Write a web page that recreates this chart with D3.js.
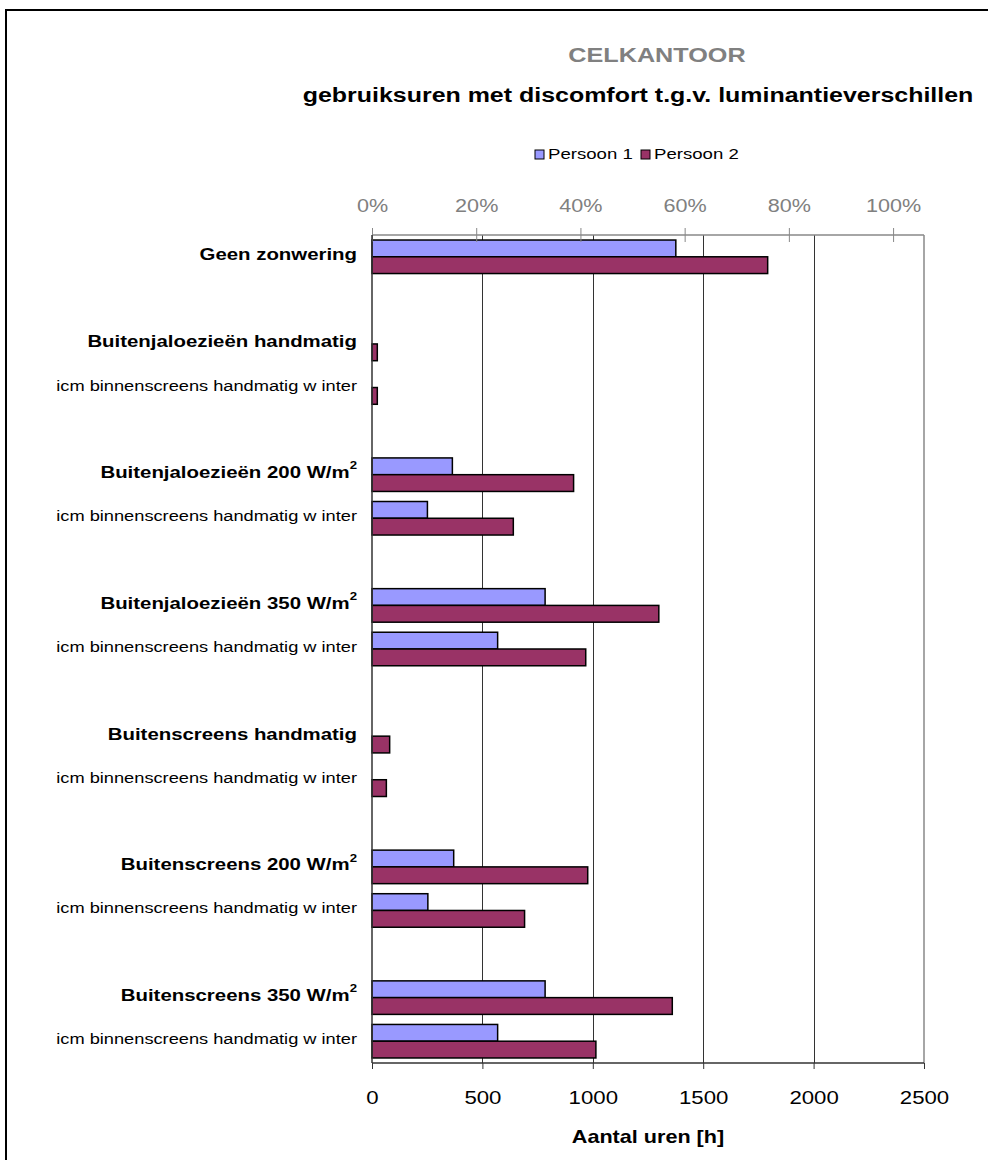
<!DOCTYPE html>
<html>
<head>
<meta charset="utf-8">
<script src="https://cdn.jsdelivr.net/npm/d3@7"></script>
<style>
  body { margin: 0; background: #fff; }
  text { font-family: "Liberation Sans", Arial, sans-serif; }
</style>
</head>
<body>
<svg id="chart" width="988" height="1160"></svg>
<script>
// ---- data ----
const categories = [
  "Geen zonwering", "",
  "Buitenjaloezieën handmatig", "icm binnenscreens handmatig w inter", "",
  "Buitenjaloezieën 200 W/m2", "icm binnenscreens handmatig w inter", "",
  "Buitenjaloezieën 350 W/m2", "icm binnenscreens handmatig w inter", "",
  "Buitenscreens handmatig", "icm binnenscreens handmatig w inter", "",
  "Buitenscreens 200 W/m2", "icm binnenscreens handmatig w inter", "",
  "Buitenscreens 350 W/m2", "icm binnenscreens handmatig w inter"
];
const persoon1 = [1376, null, 0, 0, null, 364, 251, null, 784, 569, null, 0, 0, null, 370, 253, null, 784, 569];
const persoon2 = [1792, null, 24, 24, null, 913, 640, null, 1299, 968, null, 80, 65, null, 977, 691, null, 1360, 1014];
const seriesNames = ["Persoon 1", "Persoon 2"];
const hourTicks = [0, 500, 1000, 1500, 2000, 2500];
const pctTicks = [0, 0.2, 0.4, 0.6, 0.8, 1.0];
const totalHours = 2360; // 100% on secondary axis
const chartTitle = "CELKANTOOR";
const chartSubtitle = "gebruiksuren met discomfort t.g.v. luminantieverschillen";
const xTitle = "Aantal uren [h]";

// ---- layout ----
const colors = ["#9999FF", "#993366"];
const SX = 1.2; // horizontal stretch of the text in the reference
const svg = d3.select("#chart");
const pL = 372, pR = 924, pT = 235, pB = 1063;

function addText(parent, px, py, str) {
  return parent.append("text").attr("x", 0).attr("y", 0)
    .attr("transform", `translate(${px},${py}) scale(${SX},1)`).text(str);
}

// outer frame
svg.append("rect").attr("x", 6).attr("y", 10).attr("width", 1000).attr("height", 1200)
  .attr("fill", "none").attr("stroke", "#000").attr("stroke-width", 2);

const x = d3.scaleLinear().domain([0, 2500]).range([pL, pR]);
const x2 = d3.scaleLinear().domain([0, 2500 / totalHours]).range([pL, pR]);
const keys = categories.map((c, i) => i);
const y = d3.scaleBand().domain(keys).range([pT, pB]).paddingInner(0).paddingOuter(0);
const ySub = d3.scaleBand().domain(seriesNames).range([0, y.bandwidth()]).paddingInner(0).paddingOuter(0.3);

// gridlines
svg.append("g").selectAll("line").data(hourTicks.filter(t => t > 0 && t < 2500)).join("line")
  .attr("x1", d => Math.round(x(d)) + 0.5).attr("x2", d => Math.round(x(d)) + 0.5).attr("y1", pT).attr("y2", pB)
  .attr("stroke", "#333").attr("stroke-width", 1);

// right border of plot
svg.append("line").attr("x1", pR).attr("x2", pR).attr("y1", pT).attr("y2", pB)
  .attr("stroke", "#888").attr("stroke-width", 1.5);

// bars
const gBars = svg.append("g");
categories.forEach((c, i) => {
  [persoon1[i], persoon2[i]].forEach((v, s) => {
    if (v === null || v === 0) return;
    gBars.append("rect")
      .attr("x", x(0))
      .attr("y", y(i) + ySub(seriesNames[s]))
      .attr("width", x(v) - x(0))
      .attr("height", ySub.bandwidth())
      .attr("fill", colors[s])
      .attr("stroke", "#000").attr("stroke-width", 1.5);
  });
});

// bottom axis
const xAxis = d3.axisBottom(x).tickValues(hourTicks).tickSize(6).tickPadding(22).tickFormat(d3.format("d"));
const gx = svg.append("g").attr("transform", `translate(0,${pB})`).call(xAxis);
gx.select(".domain").attr("stroke", "#333").attr("stroke-width", 1.5).attr("d", `M${pL},0H${pR}`);
gx.selectAll(".tick line").attr("stroke", "#333");
gx.selectAll(".tick text").attr("font-size", 18.5).attr("fill", "#000")
  .attr("font-family", "Liberation Sans, Arial, sans-serif")
  .attr("transform", `scale(${SX},1)`);

// top (secondary) axis
const xAxis2 = d3.axisTop(x2).tickValues(pctTicks).tickSizeInner(7).tickSizeOuter(0).tickPadding(16)
  .tickFormat(d3.format(".0%"));
const gx2 = svg.append("g").attr("transform", `translate(0,${pT})`).call(xAxis2);
gx2.select(".domain").attr("stroke", "#888").attr("stroke-width", 1.5).attr("d", `M${pL},0H${pR}`);
gx2.selectAll(".tick line").attr("stroke", "#888").attr("y1", 7).attr("y2", -7);
gx2.selectAll(".tick text").attr("font-size", 18).attr("fill", "#808080")
  .attr("font-family", "Liberation Sans, Arial, sans-serif")
  .attr("transform", `scale(${SX},1)`);

// left axis line
svg.append("line").attr("x1", pL).attr("x2", pL).attr("y1", pT).attr("y2", pB)
  .attr("stroke", "#333").attr("stroke-width", 1.5);

// category labels
const gLab = svg.append("g");
categories.forEach((c, i) => {
  if (!c) return;
  const bold = !c.startsWith("icm");
  const t = addText(gLab, 357, y(i) + y.bandwidth() / 2 - 1, null)
    .attr("text-anchor", "end").attr("dominant-baseline", "middle")
    .attr("font-size", bold ? 17 : 15.2).attr("font-weight", bold ? "bold" : "normal")
    .attr("fill", "#000");
  const m = c.match(/^(.*W\/m)2$/);
  if (m) {
    t.append("tspan").text(m[1]);
    t.append("tspan").text("2").attr("font-size", 11).attr("dy", -7);
  } else {
    t.text(c);
  }
});

// titles
addText(svg, 657, 62, chartTitle).attr("text-anchor", "middle")
  .attr("font-size", 21).attr("font-weight", "bold").attr("fill", "#808080");
addText(svg, 638, 102, chartSubtitle).attr("text-anchor", "middle")
  .attr("font-size", 20.8).attr("font-weight", "bold").attr("fill", "#000");
addText(svg, 648, 1143, xTitle).attr("text-anchor", "middle")
  .attr("font-size", 18).attr("font-weight", "bold").attr("fill", "#000");

// legend
const legX = [535, 641];
seriesNames.forEach((n, s) => {
  svg.append("rect").attr("x", legX[s]).attr("y", 150).attr("width", 9).attr("height", 9)
    .attr("fill", colors[s]).attr("stroke", "#000").attr("stroke-width", 1);
  addText(svg, legX[s] + 13, 155, n).attr("dominant-baseline", "middle")
    .attr("font-size", 15.5).attr("fill", "#000");
});
</script>
</body>
</html>
